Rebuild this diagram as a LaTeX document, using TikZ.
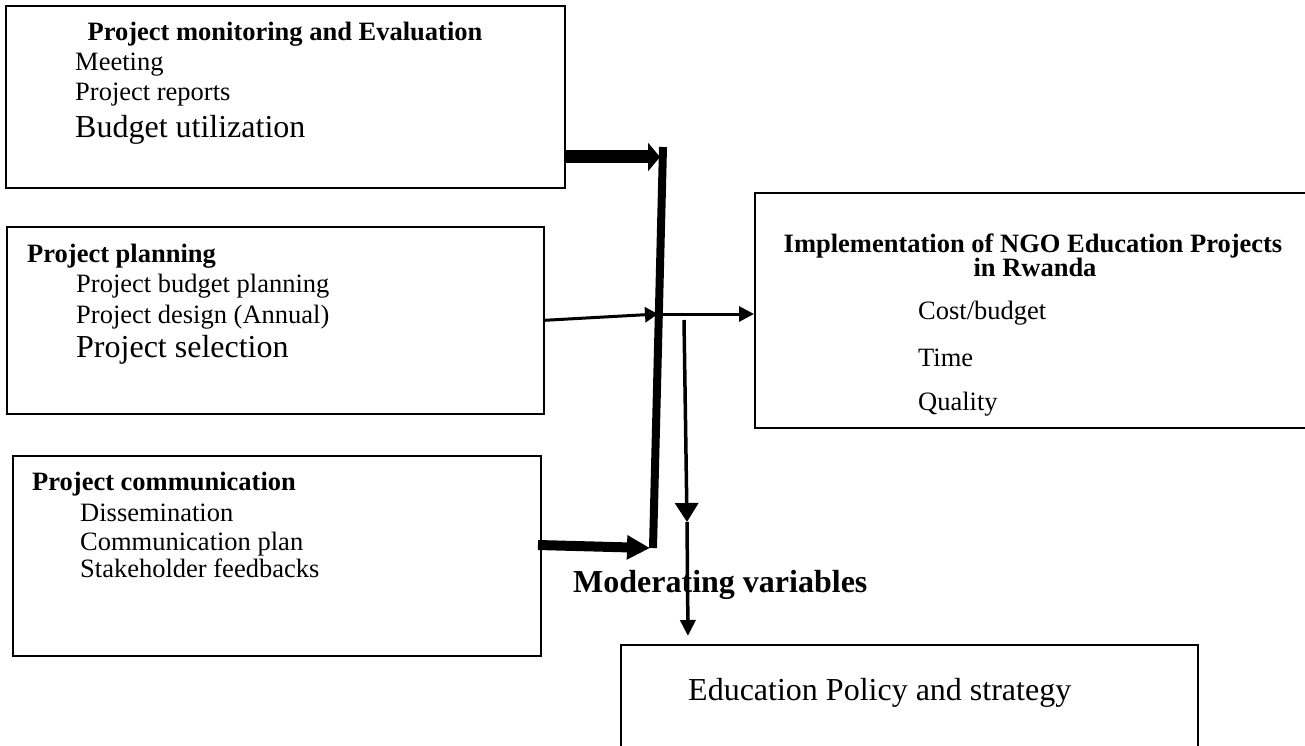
\documentclass[tikz,border=0pt]{standalone}
\usepackage{fontspec}
\setmainfont{Liberation Serif}
\usetikzlibrary{arrows.meta}
\begin{document}
\begin{tikzpicture}[x=1pt,y=-1pt,
  box/.style={draw, line width=1.6pt, inner sep=0pt, anchor=north west},
  hd/.style={anchor=base west, inner sep=0pt, font=\fontsize{26.5}{30}\selectfont\bfseries},
  hdc/.style={anchor=base, inner sep=0pt, font=\fontsize{26.5}{30}\selectfont\bfseries},
  itm/.style={anchor=base west, inner sep=0pt, font=\fontsize{26.5}{30}\selectfont},
  itl/.style={anchor=base west, inner sep=0pt, font=\fontsize{32}{36}\selectfont},
  modl/.style={anchor=base west, inner sep=0pt, font=\fontsize{32}{36}\selectfont\bfseries},
  thin/.style={line width=3pt},
]
\useasboundingbox (0,0) rectangle (1305,746);
\clip (0,0) rectangle (1305,746);

% boxes
\node[box, minimum width=559pt, minimum height=182pt] (mon) at (5,5) {};
\node[box, minimum width=537pt, minimum height=187pt] (plan) at (6,226) {};
\node[box, minimum width=528pt, minimum height=200pt] (comm) at (12,455) {};
\node[box, minimum width=600pt, minimum height=235pt] (impl) at (754,192) {};
\node[box, minimum width=577pt, minimum height=150pt] (pol) at (620,644) {};

% box 1 text
\node[hdc] (t1) at (285,41) {Project monitoring and Evaluation};
\node[itm] (t1a) at (75,71) {Meeting};
\node[itm] (t1b) at (75,101) {Project reports};
\node[itl] (t1c) at (75,138) {Budget utilization};

% box 2 text
\node[hd] (t2) at (27,262) {Project planning};
\node[itm] (t2a) at (76,292) {Project budget planning};
\node[itm] (t2b) at (76,323) {Project design (Annual)};
\node[itl] (t2c) at (76,357) {Project selection};

% box 3 text
\node[hd] (t3) at (32,490) {Project communication};
\node[itm] (t3a) at (80,521) {Dissemination};
\node[itm] (t3b) at (80,550) {Communication plan};
\node[itm] (t3c) at (80,577) {Stakeholder feedbacks};

% box 4 text
\node[hdc] (t4) at (1033,252) {Implementation of NGO Education Projects};
\node[hdc] (t4r) at (1035,276) {in Rwanda};
\node[itm] (t4a) at (918,319) {Cost/budget};
\node[itm] (t4b) at (918,366) {Time};
\node[itm] (t4c) at (918,410) {Quality};

% box 5 text
\node[itl] (t5) at (688,700) {Education Policy and strategy};

% moderating label
\node[modl] (mod) at (573,592) {Moderating variables};

% junction coordinates
\coordinate (s1) at (566,157);
\coordinate (j1) at (660,157);
\coordinate (bartop) at (663,147);
\coordinate (barbot) at (653,548);
\coordinate (s3) at (538,545);
\coordinate (j3) at (650,548);
\coordinate (j2) at (658,314);
\coordinate (j2b) at (660,314);
\coordinate (d0) at (684,320);
\coordinate (d1) at (687,522);
\coordinate (d2) at (688,636);

% thick connectors
\draw[line width=13pt, -{Triangle[length=12pt,width=28pt]}] (s1) -- (j1);
\draw[line width=8pt] (bartop) -- (barbot);
\draw[line width=10pt, -{Triangle[length=23pt,width=23pt]}] (s3) -- (j3);

% thin connectors
\draw[thin, -{Triangle[length=13pt,width=15pt]}] (plan.east) -- (j2);
\draw[thin, -{Triangle[length=15pt,width=15pt]}] (j2b) -- (j2b -| impl.west);
\draw[line width=3.5pt, -{Triangle[length=19pt,width=23pt]}] (d0) -- (d1);
\draw[line width=3.5pt, -{Triangle[length=16pt,width=15pt]}] (d1) -- (d2);
\end{tikzpicture}
\end{document}
